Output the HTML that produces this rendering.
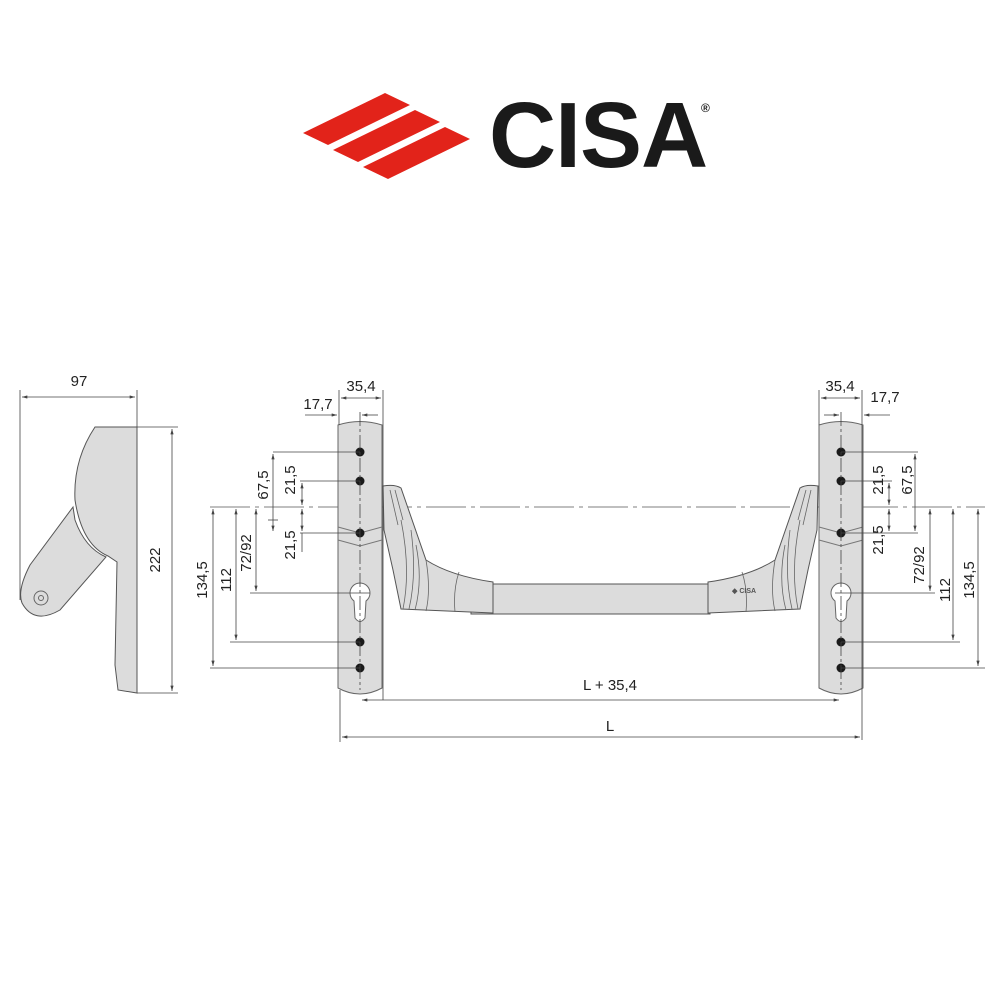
<!DOCTYPE html>
<html><head><meta charset="utf-8"><style>html,body{margin:0;padding:0;background:#fff}svg{display:block}</style></head>
<body>
<svg width="1000" height="1000" viewBox="0 0 1000 1000" xmlns="http://www.w3.org/2000/svg" font-family="Liberation Sans, sans-serif">
<defs>
<marker id="a" viewBox="0 0 10 6" refX="10" refY="3" markerWidth="8" markerHeight="4" orient="auto-start-reverse"><path d="M0,0 L10,3 L0,6 Z" fill="#444"/></marker>
<g id="hand">
<path d="M708,582 Q750,576 775,560 L800,488 Q806,484 818,486 L817,530 L808,570 L800,609 L708,613 Z" fill="#dcdcdc" stroke="#555" stroke-width="1"/>
<path d="M775,560 Q770,590 775,611 M785,545 Q778,580 786,610 M790,530 Q784,575 792,609 M800,520 Q790,570 798,609 M806,490 L798,520 M811,490 L803,525 M742,572 Q748,590 746,612" fill="none" stroke="#666" stroke-width="0.8"/>
</g>
<g id="plate">
<path d="M0,425 Q22,418 44,425 L44,688 Q22,700 0,688 Z" fill="#dcdcdc" stroke="#666" stroke-width="1"/>
<path d="M0,527 L22,533 L44,527 M0,540 L22,546 L44,540" fill="none" stroke="#777" stroke-width="1"/>
<path d="M16,601 A10,10 0 1 1 28,601 L27,618 Q22,625 17,618 Z" fill="#fff" stroke="#666" stroke-width="1"/>
<g fill="#1a1a1a"><circle cx="22" cy="452" r="4.5"/><circle cx="22" cy="481" r="4.5"/><circle cx="22" cy="533" r="4.5"/><circle cx="22" cy="642" r="4.5"/><circle cx="22" cy="668" r="4.5"/></g>
</g>
</defs>

<g fill="#e2231a">
<polygon points="303,133 385,93 410,105 328,145"/>
<polygon points="333,150 415,110 440,122 358,162"/>
<polygon points="363,167 445,127 470,139 388,179"/>
</g>
<text x="489" y="167" font-size="93" font-weight="bold" fill="#1a1a1a" letter-spacing="-1">CISA</text>
<text x="701" y="112" font-size="12" font-weight="bold" fill="#1a1a1a">®</text>

<path d="M95,427 L137,427 L137,693 L118,690 L115,665 L117,562 L108,556 Q82,545 75,500 Q73,460 95,427 Z" fill="#dcdcdc" stroke="#555" stroke-width="1"/>
<path d="M73,507 L30,565 Q17,590 22,603 Q34,625 60,610 L106,557 Q85,548 75,520 Z" fill="#dcdcdc" stroke="#555" stroke-width="1"/>
<circle cx="41" cy="598" r="7" fill="none" stroke="#666"/><circle cx="41" cy="598" r="2.5" fill="none" stroke="#666"/>
<g stroke="#444" stroke-width="0.8" fill="none">
<line x1="20" y1="390" x2="20" y2="600"/><line x1="137" y1="390" x2="137" y2="427"/>
<line x1="22" y1="397" x2="135" y2="397" marker-start="url(#a)" marker-end="url(#a)"/>
<line x1="137" y1="427" x2="178" y2="427"/><line x1="137" y1="693" x2="178" y2="693"/>
<line x1="172" y1="429" x2="172" y2="691" marker-start="url(#a)" marker-end="url(#a)"/>
</g>

<line x1="210" y1="507" x2="985" y2="507" stroke="#555" stroke-width="0.8" stroke-dasharray="40,5,4,5"/>

<rect x="471" y="584" width="239" height="30" fill="#dcdcdc" stroke="#555"/>
<use href="#hand"/>
<use href="#hand" transform="translate(1201,0) scale(-1,1)"/>
<text x="732" y="593" font-size="7" font-weight="bold" fill="#555">◆ CISA</text>

<use href="#plate" transform="translate(338,0)"/>
<use href="#plate" transform="translate(819,0)"/>
<g stroke="#444" stroke-width="0.8" fill="none" stroke-dasharray="14,3,3,3">
<line x1="360" y1="412" x2="360" y2="690"/><line x1="841" y1="412" x2="841" y2="690"/>
</g>

<g stroke="#444" stroke-width="0.8" fill="none">
<line x1="339" y1="390" x2="339" y2="425"/><line x1="383" y1="390" x2="383" y2="700"/>
<line x1="341" y1="398" x2="381" y2="398" marker-start="url(#a)" marker-end="url(#a)"/>
<line x1="305" y1="415" x2="337" y2="415" marker-end="url(#a)"/><line x1="362" y1="415" x2="378" y2="415" marker-start="url(#a)"/>
<line x1="819" y1="390" x2="819" y2="425"/><line x1="862" y1="390" x2="862" y2="740"/>
<line x1="821" y1="398" x2="860" y2="398" marker-start="url(#a)" marker-end="url(#a)"/>
<line x1="824" y1="415" x2="839" y2="415" marker-end="url(#a)"/><line x1="864" y1="415" x2="890" y2="415" marker-start="url(#a)"/>
<line x1="273" y1="452" x2="360" y2="452"/><line x1="300" y1="481" x2="360" y2="481"/>
<line x1="300" y1="533" x2="360" y2="533"/><line x1="268" y1="520" x2="278" y2="520"/>
<line x1="250" y1="593" x2="370" y2="593"/><line x1="230" y1="642" x2="360" y2="642"/><line x1="210" y1="668" x2="360" y2="668"/>
<line x1="273" y1="454" x2="273" y2="531" marker-start="url(#a)" marker-end="url(#a)"/>
<line x1="302" y1="483" x2="302" y2="505" marker-start="url(#a)" marker-end="url(#a)"/>
<line x1="302" y1="509" x2="302" y2="531" marker-start="url(#a)" marker-end="url(#a)"/>
<line x1="302" y1="533" x2="302" y2="552"/>
<line x1="256" y1="509" x2="256" y2="591" marker-start="url(#a)" marker-end="url(#a)"/>
<line x1="236" y1="509" x2="236" y2="640" marker-start="url(#a)" marker-end="url(#a)"/>
<line x1="213" y1="509" x2="213" y2="666" marker-start="url(#a)" marker-end="url(#a)"/>
<line x1="841" y1="452" x2="918" y2="452"/><line x1="841" y1="481" x2="892" y2="481"/>
<line x1="841" y1="533" x2="918" y2="533"/>
<line x1="835" y1="593" x2="935" y2="593"/><line x1="841" y1="642" x2="960" y2="642"/><line x1="841" y1="668" x2="985" y2="668"/>
<line x1="915" y1="454" x2="915" y2="531" marker-start="url(#a)" marker-end="url(#a)"/>
<line x1="889" y1="483" x2="889" y2="505" marker-start="url(#a)" marker-end="url(#a)"/>
<line x1="889" y1="509" x2="889" y2="531" marker-start="url(#a)" marker-end="url(#a)"/>
<line x1="930" y1="509" x2="930" y2="591" marker-start="url(#a)" marker-end="url(#a)"/>
<line x1="953" y1="509" x2="953" y2="640" marker-start="url(#a)" marker-end="url(#a)"/>
<line x1="978" y1="509" x2="978" y2="666" marker-start="url(#a)" marker-end="url(#a)"/>
<line x1="340" y1="690" x2="340" y2="742"/>
<line x1="362" y1="700" x2="839" y2="700" marker-start="url(#a)" marker-end="url(#a)"/>
<line x1="342" y1="737" x2="860" y2="737" marker-start="url(#a)" marker-end="url(#a)"/>
</g>

<g font-size="15" fill="#222" text-anchor="middle">
<text x="79" y="386">97</text>
<text x="361" y="391">35,4</text>
<text x="318" y="409">17,7</text>
<text x="840" y="391">35,4</text>
<text x="885" y="402">17,7</text>
<text x="610" y="690">L + 35,4</text>
<text x="610" y="731">L</text>
<text transform="translate(160,560) rotate(-90)">222</text>
<text transform="translate(268,485) rotate(-90)">67,5</text>
<text transform="translate(295,480) rotate(-90)">21,5</text>
<text transform="translate(295,545) rotate(-90)">21,5</text>
<text transform="translate(251,553) rotate(-90)">72/92</text>
<text transform="translate(231,580) rotate(-90)">112</text>
<text transform="translate(207,580) rotate(-90)">134,5</text>
<text transform="translate(883,480) rotate(-90)">21,5</text>
<text transform="translate(883,540) rotate(-90)">21,5</text>
<text transform="translate(912,480) rotate(-90)">67,5</text>
<text transform="translate(924,565) rotate(-90)">72/92</text>
<text transform="translate(950,590) rotate(-90)">112</text>
<text transform="translate(974,580) rotate(-90)">134,5</text>
</g>
</svg>
</body></html>
